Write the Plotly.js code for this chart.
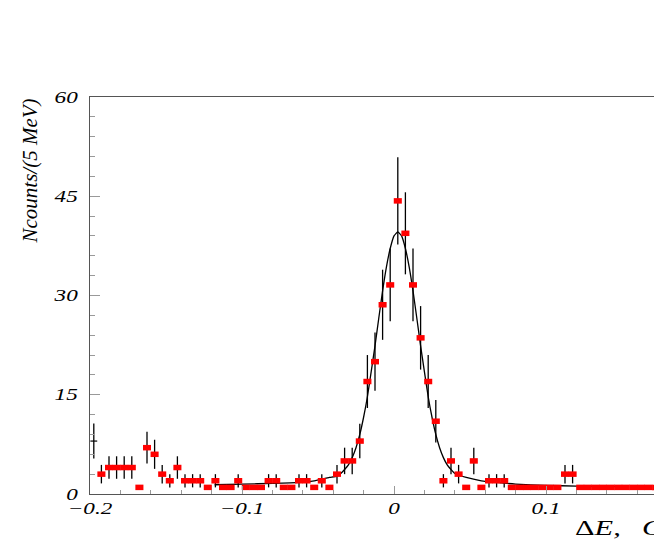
<!DOCTYPE html>
<html><head><meta charset="utf-8">
<script src="https://cdn.plot.ly/plotly-3.0.1.min.js"></script>
<style>html,body{margin:0;padding:0;overflow:hidden;background:#fff;width:654px;height:545px}#chart{width:740px;height:545px}</style>
</head><body><div id="chart"></div>
<script>
// bin centres (GeV), 5 MeV bins
const binCenters = [-0.1925,-0.1875,-0.1825,-0.1775,-0.1725,-0.1675,-0.1625,-0.1575,-0.1525,-0.1475,
  -0.1425,-0.1375,-0.1325,-0.1275,-0.1225,-0.1175,-0.1125,-0.1075,-0.1025,-0.0975,
  -0.0925,-0.0875,-0.0825,-0.0775,-0.0725,-0.0675,-0.0625,-0.0575,-0.0525,-0.0475,
  -0.0425,-0.0375,-0.0325,-0.0275,-0.0225,-0.0175,-0.0125,-0.0075,-0.0025,0.0025,
  0.0075,0.0125,0.0175,0.0225,0.0275,0.0325,0.0375,0.0425,0.0475,0.0525,
  0.0575,0.0625,0.0675,0.0725,0.0775,0.0825,0.0875,0.0925,0.0975,0.1025,
  0.1075,0.1125,0.1175,0.1225,0.1275,0.1325,0.1375,0.1425,0.1475,0.1525,
  0.1575,0.1625,0.1675,0.1725,0.1775,0.1825,0.1875,0.1925,0.1975];
const counts = [3,4,4,4,4,1,7,6,3,2,
  4,2,2,2,1,2,1,1,2,1,
  1,1,2,2,1,1,2,2,1,2,
  1,3,5,5,8,17,20,28.6,31.6,44.3,
  39.4,31.6,23.6,17,11,2,5,3,1,5,
  1,2,2,2,1,1,1,1,1,1,
  1,3,3,1,1,1,1,1,1,1,
  1,1,1,1,1,1,1,1,1];
const countErrors = [1.4,1.7,1.7,1.7,1.7,0,2.4,2.2,1.4,1,
  1.7,1,1,1,0,1,0,0,1,0,
  0,0,1,1,0,0,1,1,0,1,
  0,1.4,2,2,2.6,4,4.4,5.3,5.5,6.6,
  6.2,5.5,4.8,4,3.2,1,2,1.4,0,2,
  0,1,1,1,0,0,0,0,0,0,
  0,1.4,1.4,0,0,0,0,0,0,0,
  0,0,0,0,0,0,0,0,0];
// first bin drawn as a black cross
const firstBinX = [-0.1975];
const firstBinY = [8];
const firstBinErr = [2.65];
// fitted curve
const fitX = [-0.118,-0.1,-0.08,-0.0625,-0.0525,-0.0425,-0.0375,-0.035,-0.0325,-0.03,
  -0.0275,-0.025,-0.0225,-0.02,-0.0175,-0.015,-0.0125,-0.01,-0.0075,-0.005,
  -0.0025,0,0.0025,0.005,0.0075,0.01,0.0125,0.015,0.0175,0.02,
  0.0225,0.025,0.0275,0.03,0.0325,0.035,0.0375,0.04,0.0475,0.0575,
  0.0675,0.08,0.1,0.12,0.152];
const fitY = [1.4,1.5,1.6,1.75,2.0,2.5,2.7,3.1,3.7,4.4,
  5.5,7.0,9.0,11.6,14.7,18.5,22.4,26.6,30.7,34.3,
  37.1,39.0,39.6,39.0,37.1,34.3,30.7,26.6,22.4,18.5,
  14.7,11.6,9.0,7.0,5.5,4.4,3.7,3.1,2.5,2.0,
  1.75,1.5,1.3,1.2,1.1];
const yTitle = 'Ncounts/(5 MeV)';
const xTitle = '<span style="font-style:normal">\u0394</span>E,\u00a0\u00a0\u2009GeV';

const serif = '"Liberation Serif", "Times New Roman", serif';
const halfBin = 0.0025;

const traces = [
  {x: fitX, y: fitY, mode: 'lines', line: {color: '#000', width: 1.3, shape: 'spline', smoothing: 0.5}, hoverinfo: 'skip'},
  {x: binCenters, y: counts, mode: 'markers', marker: {size: 1, color: 'rgba(255,0,0,0)'},
   error_y: {type: 'data', array: countErrors, visible: true, color: '#000', thickness: 1.3, width: 0},
   error_x: {type: 'constant', value: halfBin * 1.06, visible: true, color: '#ff0000', thickness: 5.5, width: 0}},
  {x: firstBinX, y: firstBinY, mode: 'markers', marker: {size: 1, color: 'rgba(0,0,0,0)'},
   error_y: {type: 'data', array: firstBinErr, visible: true, color: '#000', thickness: 1.3, width: 0},
   error_x: {type: 'constant', value: halfBin * 0.9, visible: true, color: '#000', thickness: 1.2, width: 0}}
];

const tickFont = {family: serif, size: 16, style: 'italic', color: '#000'};
const layout = {
  width: 740, height: 545,
  margin: {l: 90, r: 42, t: 97, b: 51, pad: 0},
  paper_bgcolor: '#fff', plot_bgcolor: '#fff', showlegend: false,
  xaxis: {range: [-0.2, 0.2], tick0: 0, dtick: 0.1, ticks: 'inside', ticklen: 8, tickwidth: 1, tickcolor: '#999',
    showline: true, linecolor: '#555', linewidth: 1, mirror: true, showgrid: false, zeroline: false,
    tickfont: tickFont,
    minor: {dtick: 0.02, ticks: 'inside', ticklen: 4, tickwidth: 1, tickcolor: '#999', showgrid: false}},
  yaxis: {range: [0, 60], tick0: 0, dtick: 15, ticks: 'inside', ticklen: 10, tickwidth: 1, tickcolor: '#999',
    showline: true, linecolor: '#555', linewidth: 1, mirror: true, showgrid: false, zeroline: false,
    tickfont: tickFont, ticklabelstandoff: 8,
    minor: {dtick: 3, ticks: 'inside', ticklen: 5, tickwidth: 1, tickcolor: '#999', showgrid: false}},
  annotations: [
    {text: yTitle, xref: 'paper', yref: 'paper', x: 0, y: 1, xanchor: 'center', yanchor: 'top', xshift: -61,
     textangle: -90, showarrow: false, font: {family: serif, size: 21, style: 'italic', color: '#000'}},
    {text: xTitle, xref: 'paper', yref: 'paper', x: 0.795, y: 0, xanchor: 'left', yanchor: 'middle', yshift: -34,
     showarrow: false, font: {family: serif, size: 21, style: 'italic', color: '#000'}}
  ]
};

function stretch(el, s, mode) {
  try {
    const bb = el.getBBox();
    const a = mode === 'left' ? bb.x : mode === 'right' ? bb.x + bb.width : bb.x + bb.width / 2;
    const old = el.getAttribute('transform') || '';
    el.setAttribute('transform', old + ' translate(' + a + ',0) scale(' + s + ',1) translate(' + (-a) + ',0)');
  } catch (e) {}
}

Plotly.newPlot('chart', traces, layout, {staticPlot: true, displayModeBar: false}).then(function (gd) {
  gd.querySelectorAll('.xtick text').forEach(t => stretch(t, 1.45, 'center'));
  gd.querySelectorAll('.ytick text').forEach(t => stretch(t, 1.45, 'right'));
  const ann = gd.querySelectorAll('.annotation-text');
  if (ann.length > 1) stretch(ann[1], 1.45, 'left');
});
</script>
</body></html>
